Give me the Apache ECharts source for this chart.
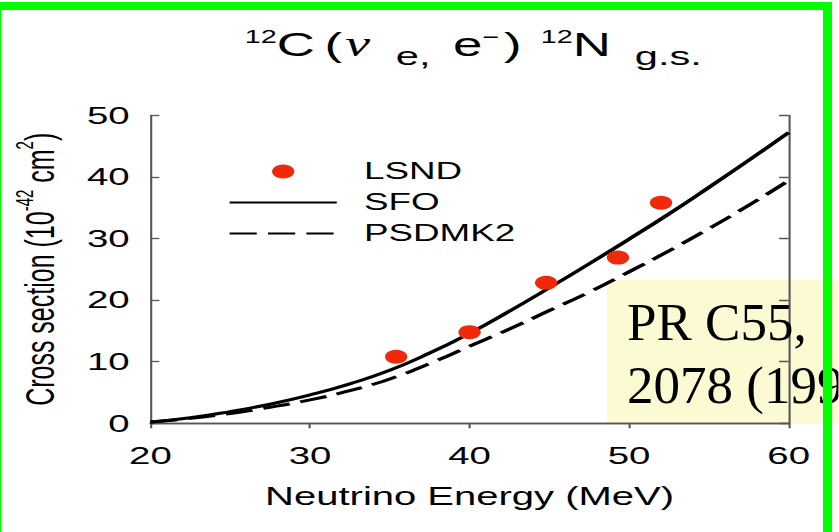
<!DOCTYPE html>
<html>
<head>
<meta charset="utf-8">
<script src="https://cdn.jsdelivr.net/npm/echarts@6/dist/echarts.min.js"></script>
<style>
  html, body { margin: 0; padding: 0; background: #ffffff; }
  #stage { position: relative; width: 839px; height: 532px; overflow: hidden; background: #ffffff; }
  /* the plot is laid out in a narrow box and widened horizontally */
  #chart { position: absolute; left: 0; top: 0; height: 532px; transform-origin: 0 0; }
</style>
</head>
<body>
<div id="stage"><div id="chart"></div></div>
<script>
// Horizontal widening applied to the whole figure
const STRETCH = 1.6;

// Neutrino energy grid for the model curves (MeV)
const energy = [20, 22.5, 25, 27.5, 30, 32.5, 35, 37.5, 40, 42.5, 45, 47.5, 50, 52.5, 55, 57.5, 60];
// Cross sections (10^-42 cm^2)
const sfo    = [0.2, 0.9, 1.9, 3.1, 4.6, 6.4, 8.6, 11.4, 14.6, 18.2, 22.0, 25.9, 29.9, 34.0, 38.3, 42.7, 47.2];
const psdmk2 = [0.2, 0.8, 1.6, 2.6, 3.8, 5.3, 7.2, 9.7, 12.5, 15.3, 18.3, 21.3, 24.6, 28.0, 31.6, 35.4, 39.4];
// LSND measurements
const lsndEnergy = [35.4, 40.0, 44.8, 49.3, 52.0];
const lsndSigma  = [10.8, 14.8, 22.8, 26.9, 35.8];

const xTicks = [20, 30, 40, 50, 60];
const yTicks = [0, 10, 20, 30, 40, 50];
const seriesNames = ['LSND', 'SFO', 'PSDMK2'];

const SANS = "'Liberation Sans', Arial, Helvetica, sans-serif";
const SERIF = "'Liberation Serif', 'Times New Roman', serif";
const FRAME = '#555555';

const W = 839 / STRETCH;
const dom = document.getElementById('chart');
dom.style.width = W + 'px';
dom.style.transform = 'scaleX(' + STRETCH + ')';

const chart = echarts.init(dom, null, { renderer: 'svg' });

const pairs = (xs, ys) => xs.map((x, i) => [x, ys[i]]);

// rich-text pieces of the reaction title: main text, superscripts, subscripts
const main = (pl) => ({ fontFamily: SANS, fontWeight: 'normal', fontSize: 33, color: '#000', lineHeight: 50, padding: [0, 0, 0, pl] });
const sup  = (pl) => ({ fontFamily: SANS, fontWeight: 'normal', fontSize: 18, color: '#000', lineHeight: 18, padding: [0, 0, 14, pl] });
const sub  = (pl) => ({ fontFamily: SANS, fontWeight: 'normal', fontSize: 26, color: '#000', lineHeight: 26, padding: [24, 0, 0, pl] });

const frameAxis = {
  axisLine: { show: true, lineStyle: { color: FRAME, width: 1.3 } },
  splitLine: { show: false }
};

chart.setOption({
  animation: false,
  backgroundColor: 'transparent',
  title: {
    left: 153,
    top: 19,
    padding: 0,
    text: '{s0|12}{m0|C}{m6|(}{nu|\u03bd}{b16|e,}{m14|e}{s0|\u2212}{m3|)}{s12|12}{m0|N}{b15|g.s.}',
    textStyle: {
      fontWeight: 'normal',
      rich: {
        m0: main(0), m3: main(3), m6: main(6), m14: main(14),
        nu: { fontFamily: SERIF, fontStyle: 'italic', fontWeight: 'normal', fontSize: 35, color: '#000', lineHeight: 50, padding: [0, 0, 0, 2] },
        s0: sup(0), s12: sup(12),
        b16: sub(16), b15: sub(15)
      }
    }
  },
  grid: { left: 147.5 / STRETCH, right: W - 789.3 / STRETCH, top: 115.3, bottom: 532 - 423.3, containLabel: false },
  legend: {
    orient: 'vertical',
    left: 142.5,
    top: 160,
    padding: 0,
    itemWidth: 67,
    itemHeight: 14,
    itemGap: 8,
    selectedMode: false,
    textStyle: { fontFamily: SANS, fontSize: 23, color: '#000', lineHeight: 20, padding: [0, 0, 0, 12] },
    data: [
      { name: seriesNames[0], icon: 'circle' },
      { name: seriesNames[1], itemStyle: { opacity: 0 } },
      { name: seriesNames[2], itemStyle: { opacity: 0 } }
    ]
  },
  xAxis: [
    Object.assign({
      type: 'value', min: xTicks[0], max: xTicks[xTicks.length - 1], interval: 10, position: 'bottom',
      axisTick: { show: true, inside: false, length: 5, lineStyle: { color: FRAME, width: 1.3 } },
      axisLabel: { fontFamily: SANS, fontSize: 24, color: '#000', margin: 20 },
      name: 'Neutrino Energy (MeV)', nameLocation: 'middle', nameGap: 61,
      nameTextStyle: { fontFamily: SANS, fontSize: 25, color: '#000' }
    }, frameAxis),
    Object.assign({
      type: 'value', min: xTicks[0], max: xTicks[xTicks.length - 1], interval: 10, position: 'top',
      axisTick: { show: false }, axisLabel: { show: false }
    }, frameAxis)
  ],
  yAxis: [
    Object.assign({
      type: 'value', min: yTicks[0], max: yTicks[yTicks.length - 1], interval: 10, position: 'left',
      axisTick: { show: true, inside: true, length: 5.6, lineStyle: { color: FRAME, width: 1.3 } },
      axisLabel: { fontFamily: SANS, fontSize: 24, color: '#000', margin: 13 },
      name: '{m|Cross section (10}{s|-42}{m| cm}{s|2}{m|)}',
      nameLocation: 'middle', nameRotate: 90, nameGap: 51,
      nameTextStyle: {
        rich: {
          m: { fontFamily: SANS, fontSize: 25, color: '#000', lineHeight: 36 },
          s: { fontFamily: SANS, fontSize: 15, color: '#000', lineHeight: 15, padding: [0, 0, 19, 0] }
        }
      }
    }, frameAxis),
    Object.assign({
      type: 'value', min: yTicks[0], max: yTicks[yTicks.length - 1], interval: 10, position: 'right',
      axisTick: { show: true, inside: true, length: 6, lineStyle: { color: FRAME, width: 1.3 } },
      axisLabel: { show: false }
    }, frameAxis)
  ],
  series: [
    {
      name: seriesNames[0], type: 'scatter', z: 4,
      symbol: 'circle', symbolSize: 14,
      itemStyle: { color: '#f0290c', opacity: 1 },
      data: pairs(lsndEnergy, lsndSigma)
    },
    {
      name: seriesNames[1], type: 'line', smooth: true, symbol: 'none', z: 3,
      lineStyle: { color: '#000', width: 3 },
      itemStyle: { color: '#000' },
      data: pairs(energy, sfo)
    },
    {
      name: seriesNames[2], type: 'line', smooth: true, symbol: 'none', z: 3,
      lineStyle: { color: '#000', width: 3, type: [17, 7] },
      itemStyle: { color: '#000' },
      data: pairs(energy, psdmk2)
    }
  ],
  graphic: [
    {
      // page furniture, given in real page pixels
      type: 'group', x: 0, y: 0, scaleX: 1 / STRETCH, silent: true,
      children: [
        { type: 'rect', z: -5, shape: { x: 607, y: 280, width: 232, height: 144 }, style: { fill: '#fcfad2' } },
        { type: 'text', z: 50, x: 627, y: 295, style: { text: 'PR C55,', font: 'normal 53px ' + SERIF, fill: '#000', verticalAlign: 'top' } },
        { type: 'text', z: 50, x: 627, y: 358, style: { text: '2078 (199', font: 'normal 53px ' + SERIF, fill: '#000', verticalAlign: 'top' } },
        { type: 'rect', z: 60, shape: { x: 0, y: 2, width: 832, height: 8 }, style: { fill: '#00ff00' } },
        { type: 'rect', z: 60, shape: { x: 0, y: 2, width: 1.6, height: 530 }, style: { fill: '#00ff00' } },
        { type: 'rect', z: 60, shape: { x: 823, y: 2, width: 9, height: 530 }, style: { fill: '#00ff00' } }
      ]
    }
  ]
});
</script>
</body>
</html>
